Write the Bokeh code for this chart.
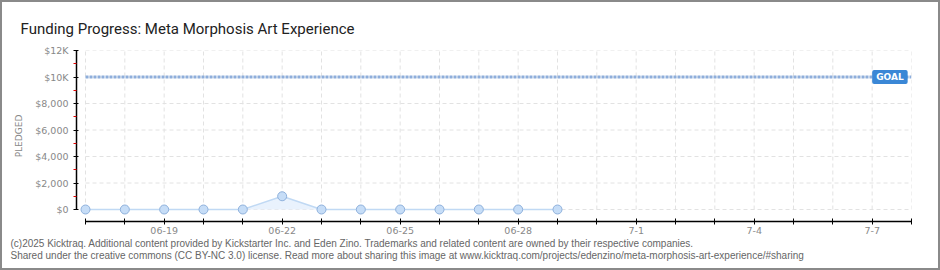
from datetime import date
from bokeh.plotting import figure
from bokeh.models import Range1d, FixedTicker, Label, ColumnDataSource, Title
from bokeh.embed import file_html
from bokeh.resources import INLINE

# ---- data ----
start_day = date(2025, 6, 17)
end_day = date(2025, 7, 8)
dates = ["2025-06-17", "2025-06-18", "2025-06-19", "2025-06-20", "2025-06-21",
         "2025-06-22", "2025-06-23", "2025-06-24", "2025-06-25", "2025-06-26",
         "2025-06-27", "2025-06-28", "2025-06-29"]
pledged = [0, 0, 0, 0, 0, 1000, 0, 0, 0, 0, 0, 0, 0]
goal = 10000
y_ticks = [0, 2000, 4000, 6000, 8000, 10000, 12000]
y_tick_labels = ["$0", "$2,000", "$4,000", "$6,000", "$8,000", "$10K", "$12K"]
x_tick_labels = {"2025-06-19": "06-19", "2025-06-22": "06-22", "2025-06-25": "06-25",
                 "2025-06-28": "06-28", "2025-07-01": "7-1", "2025-07-04": "7-4",
                 "2025-07-07": "7-7"}
title_text = "Funding Progress: Meta Morphosis Art Experience"
footer1 = ("(c)2025 Kicktraq. Additional content provided by Kickstarter Inc. and Eden Zino. "
           "Trademarks and related content are owned by their respective companies.")
footer2 = ("Shared under the creative commons (CC BY-NC 3.0) license. Read more about sharing "
           "this image at www.kicktraq.com/projects/edenzino/meta-morphosis-art-experience/#sharing")


def day_index(s):
    y, m, d = map(int, s.split("-"))
    return (date(y, m, d) - start_day).days


xs = [day_index(d) for d in dates]
n_days = (end_day - start_day).days
ymax = y_ticks[-1]

B = 2  # css border width (drawn inside the host box)
W, H = 940, 270
frame_left, frame_right, frame_top, frame_bottom = 76 - B, 911 - B, 50 - B, 221 - B
zero_px = 209 - B
px_per_unit = (zero_px - frame_top) / ymax
x_start = -(85 - 76) / 39.33

p = figure(width=W, height=H, output_backend="svg", toolbar_location=None,
           x_range=Range1d(x_start, n_days),
           y_range=Range1d(-(frame_bottom - zero_px) / px_per_unit, ymax),
           min_border_left=frame_left, min_border_right=W - frame_right,
           min_border_top=frame_top, min_border_bottom=H - frame_bottom)
p.outline_line_color = None
p.xgrid.visible = False
p.ygrid.visible = False
p.background_fill_color = "white"
p.border_fill_color = "white"
p.styles = {"border": "2px solid #8a8a8a"}

# title
p.title = Title(text=title_text, text_font="Roboto", text_font_size="15px",
                text_color="#222222", text_font_style="normal", align="left",
                offset=(20 - B) - frame_left, standoff=25)

# grid lines (dashed)
grid_color = "#e2e2e2"
p.segment(x0=list(range(0, n_days + 1)), y0=[0] * (n_days + 1),
          x1=list(range(0, n_days + 1)), y1=[ymax] * (n_days + 1),
          line_color=grid_color, line_dash="4 3", line_width=1)
p.segment(x0=[0] * len(y_ticks), y0=y_ticks, x1=[n_days] * len(y_ticks), y1=y_ticks,
          line_color=grid_color, line_dash="4 3", line_width=1)

# goal line
p.segment(x0=[0], y0=[goal], x1=[n_days], y1=[goal],
          line_color="#8eaedb", line_width=3, line_dash="3 1")

# series
src = ColumnDataSource(dict(x=xs, y=pledged, base=[0] * len(xs)))
p.varea(x="x", y1="base", y2="y", source=src, fill_color="#e9f2fd")
p.line(x="x", y="y", source=src, line_color="#c0d9f4", line_width=1.5)
p.scatter(x="x", y="y", source=src, size=9, fill_color="#c6ddf7",
          line_color="#8fb1dc", line_width=1)

# GOAL badge
p.add_layout(Label(x=day_index("2025-07-07"), y=goal, text="GOAL", text_align="left",
                   text_baseline="middle", text_color="white", text_font_size="9px",
                   text_font="DejaVu Sans", text_font_style="bold",
                   background_fill_color="#3a87d6", padding=(4, 2), border_radius=2))

# axes
ax = p.xaxis[0]
ax.ticker = FixedTicker(ticks=list(range(0, n_days + 1)))
ax.major_label_overrides = {i: "" for i in range(0, n_days + 1)}
ax.major_label_overrides.update({day_index(k): v for k, v in x_tick_labels.items()})
ax.bounds = (0, n_days)
ax.axis_line_color = "black"
ax.axis_line_width = 1.5
ax.major_tick_line_color = "black"
ax.major_tick_in = 3
ax.major_tick_out = 3
ax.minor_tick_line_color = None
ax.major_label_text_color = "#888888"
ax.major_label_text_font = "DejaVu Sans"
ax.major_label_text_font_size = "9.5px"
ax.major_label_standoff = 2

ay = p.yaxis[0]
ay.ticker = FixedTicker(ticks=y_ticks, minor_ticks=[1000, 3000, 5000, 7000, 9000, 11000])
ay.major_label_overrides = dict(zip(y_ticks, y_tick_labels))
ay.bounds = (0, ymax)
ay.axis_line_color = "black"
ay.axis_line_width = 1.5
ay.major_tick_line_color = "black"
ay.major_tick_in = 2
ay.major_tick_out = 3
ay.minor_tick_line_color = "#e00000"
ay.minor_tick_in = 0
ay.minor_tick_out = 3
ay.major_label_text_color = "#888888"
ay.major_label_text_font = "DejaVu Sans"
ay.major_label_text_font_size = "9.5px"
ay.major_label_standoff = 5
ay.axis_label = "PLEDGED"
ay.axis_label_text_color = "#888888"
ay.axis_label_text_font = "DejaVu Sans"
ay.axis_label_text_font_style = "normal"
ay.axis_label_text_font_size = "9px"
ay.axis_label_standoff = 8

# footer lines
for txt, sd in ((footer1, -1), (footer2, -2)):
    p.add_layout(Title(text=txt, text_font="Liberation Sans", text_font_size="10px",
                       text_color="#666666", text_font_style="normal", align="left",
                       offset=(10 - B) - frame_left, standoff=sd), "below")

open("out.html", "w").write(file_html(p, INLINE))
